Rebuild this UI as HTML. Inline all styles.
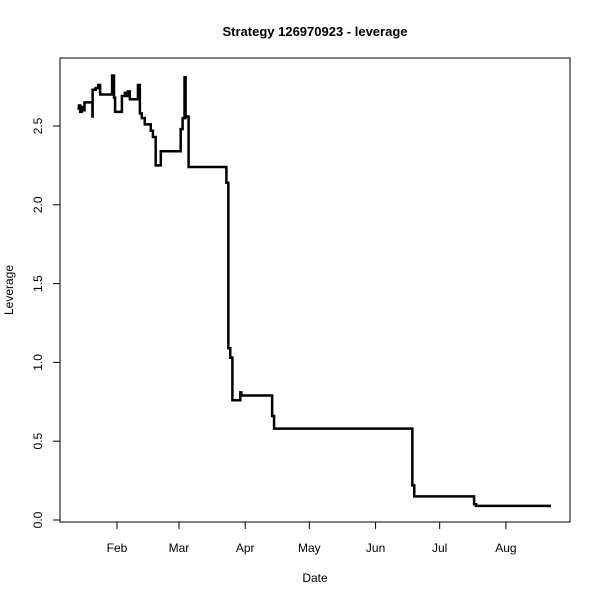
<!DOCTYPE html>
<html><head><meta charset="utf-8"><style>body{margin:0;background:#fff}svg text{font-family:"Liberation Sans",Arial,sans-serif}</style></head>
<body>
<svg id="c" width="600" height="600" xmlns="http://www.w3.org/2000/svg">
<rect width="600" height="600" fill="#fff"/>
<text x="315" y="36" text-anchor="middle" font-size="13" font-weight="bold">Strategy 126970923 - leverage</text>
<text x="315" y="582" text-anchor="middle" font-size="12">Date</text>
<text transform="translate(13,290) rotate(-90)" text-anchor="middle" font-size="12">Leverage</text>
<rect x="60" y="58" width="510" height="464" fill="none" stroke="#000" stroke-width="1"/>
<g id="ax"></g>
<path id="ln" fill="none" stroke="#000" stroke-width="2.5"/>
</svg>
<script>
const days=[12.5,13.2,13.8,14.5,15.2,15.8,19.5,19.6,21,22.2,23.1,28.7,29.0,29.3,29.6,30.1,33.3,34.7,35.5,36.1,37.0,40.8,41.1,41.4,41.7,42.6,44.0,46.8,47.8,49.1,51.5,60.8,61.7,62.6,62.8,63.0,63.1,64.5,82.2,83.1,84.0,85.0,88.7,89.2,103.6,104.5,169.2,170.1,198.1,199.0,233.5];
const lev=[2.61,2.63,2.59,2.62,2.60,2.65,2.56,2.73,2.74,2.76,2.70,2.82,2.70,2.82,2.68,2.59,2.69,2.71,2.69,2.72,2.67,2.76,2.70,2.76,2.58,2.55,2.51,2.47,2.43,2.25,2.34,2.48,2.55,2.81,2.55,2.81,2.56,2.24,2.14,1.09,1.03,0.76,0.81,0.79,0.66,0.58,0.22,0.15,0.10,0.09,0.08];
const xTickDays=[31,60,91,121,152,182,213];
const xTickLabels=["Feb","Mar","Apr","May","Jun","Jul","Aug"];
const yTicks=[0,0.5,1,1.5,2,2.5];
const yTickLabels=["0.0","0.5","1.0","1.5","2.0","2.5"];
const X=d=>117+(d-31)*2.137;
const Y=v=>520-v*157.6;
const NS="http://www.w3.org/2000/svg";
const ax=document.getElementById('ax');
function mk(t,a,txt){const e=document.createElementNS(NS,t);for(const k in a)e.setAttribute(k,a[k]);if(txt!=null)e.textContent=txt;ax.appendChild(e);return e;}
xTickDays.forEach((d,i)=>{
 const l=mk('line',{x1:X(d),x2:X(d),y1:522,y2:529,stroke:'#000'});
 
 
 const t=mk('text',{x:X(d),y:552,'text-anchor':'middle','font-size':12},xTickLabels[i]);
 
 
});
mk('line',{x1:X(31),x2:X(213),y1:522,y2:522,stroke:'#000'});
yTicks.forEach((v,i)=>{
 const l=mk('line',{x1:53,x2:60,y1:Y(v),y2:Y(v),stroke:'#000'});
 
 
 const t=mk('text',{transform:`translate(42,${Y(v)}) rotate(-90)`,'text-anchor':'middle','font-size':12},yTickLabels[i]);
 
 
});
let d='M'+X(days[0])+','+Y(lev[0]);
for(let i=1;i<days.length;i++){d+=' H'+X(days[i])+' V'+Y(lev[i]);}
document.getElementById('ln').setAttribute('d',d);
</script>
</body></html>
